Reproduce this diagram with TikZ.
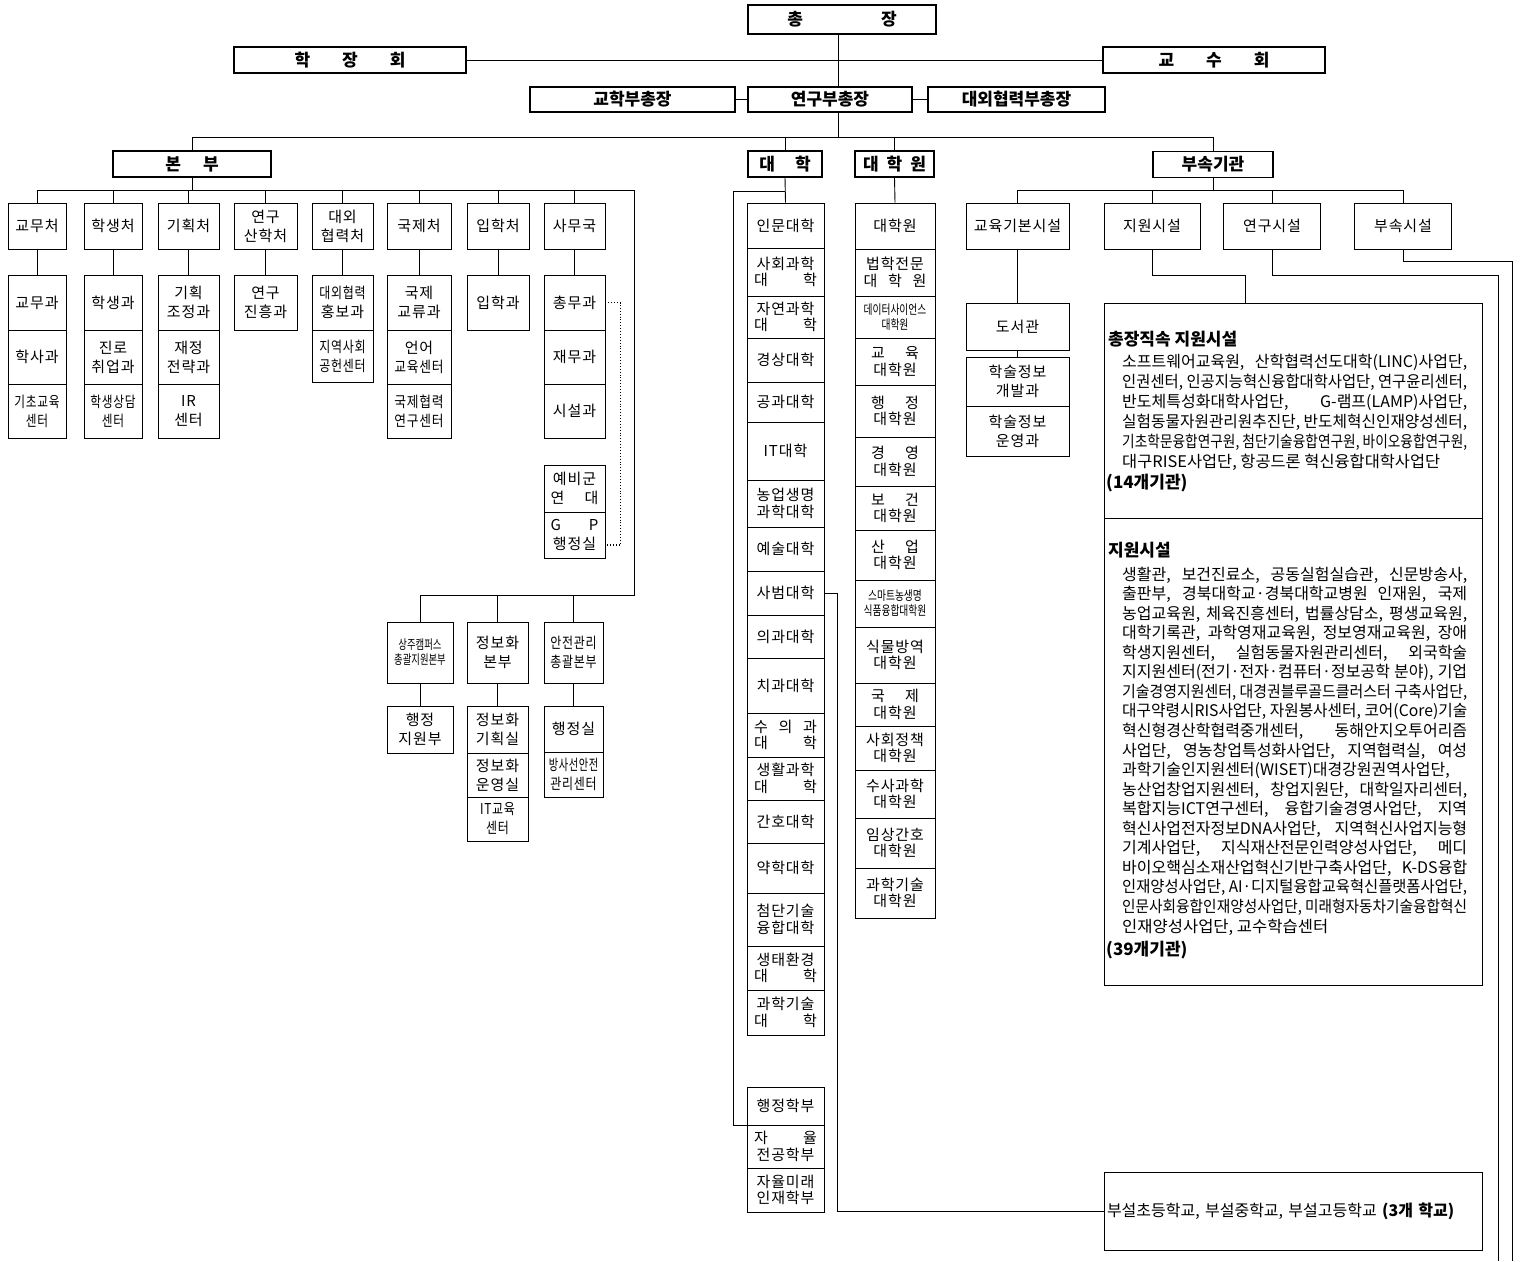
\documentclass[tikz,border=0pt]{standalone}
\usepackage{fontspec}
\usepackage{graphicx}
\setmainfont{Noto Sans CJK KR}
\newfontfamily\lblfont{Noto Sans CJK KR}[LetterSpace=6]
\usetikzlibrary{positioning, calc, backgrounds}

\newsavebox\fitbox
\newcommand\fitline[1]{\sbox\fitbox{#1}%
  \ifdim\wd\fitbox>345pt\resizebox{345pt}{\height}{#1}\else\makebox[345pt][s]{#1}\fi}
\newcommand\spr[2]{\makebox[4.2em]{#1\hfill#2}}
\newcommand\sprr[3]{\makebox[4.2em]{#1\hfill#2\hfill#3}}
\newcommand\sprt[2]{\makebox[3.2em]{#1\hfill#2}}
\newcommand\nw[2][0.78]{\scalebox{#1}[1]{#2}}

\begin{document}
\begin{tikzpicture}[x=1pt, y=-1pt,
  box/.style={draw, line width=0.9pt, fill=white, inner sep=0pt, align=center, font=\lblfont\fontsize{15}{19}\selectfont},
  col/.style={box, font=\lblfont\fontsize{15}{16.5}\selectfont},
  wee/.style={font=\fontsize{13}{15}\selectfont},
  head/.style={draw, line width=1.5pt, fill=white, inner sep=0pt, font=\bfseries\fontsize{17}{19}\selectfont},
  body/.style={anchor=west, inner sep=0pt, font=\fontsize{16}{18}\selectfont},
  bhead/.style={anchor=west, inner sep=0pt, font=\bfseries\fontsize{17}{19}\selectfont},
  link/.style={line width=0.9pt}]

\useasboundingbox (0,0) rectangle (1522,1261);

%//top
\node[head, minimum width=188, minimum height=29] (chong) at (842,19.5) {총\hspace{78pt}장};
\node[head, minimum width=232, minimum height=26] (hakjang) at (350,60) {학\hspace{32pt}장\hspace{32pt}회};
\node[head, minimum width=222, minimum height=26] (gyosu) at (1214,60) {교\hspace{32pt}수\hspace{32pt}회};
\node[head, minimum width=205, minimum height=25] (vpedu) at (632.5,99.5) {교학부총장};
\node[head, minimum width=164, minimum height=25] (vpres) at (830,99.5) {연구부총장};
\node[head, minimum width=177, minimum height=25] (vpext) at (1016.5,99.5) {대외협력부총장};

\node[head, minimum width=158, minimum height=26] (bonbu) at (192,164) {본\hspace{22pt}부};
\node[head, minimum width=74, minimum height=26] (daehak) at (785,164) {대\hspace{20pt}학};
\node[head, minimum width=79, minimum height=26] (grad) at (894.5,164) {대\hspace{8pt}학\hspace{8pt}원};
\node[head, minimum width=120, minimum height=26] (busok) at (1213,164.5) {부속기관};

\coordinate (trunk) at (838,137);
\coordinate (bbar) at (634,190);
\coordinate (lowbar) at (634,595);
\coordinate (sbar) at (1403,190);

%//bonbu
\foreach \n/\cx/\w/\txt in {gyomu/37/58/교무처, haksaeng/113/58/학생처, gihoek/188.5/61/기획처,
    yeongu/265.5/63/{연구\\산학처}, daeoe/342.5/61/{대외\\협력처}, gukje/419/64/국제처,
    iphak/498/62/입학처, samu/574.5/61/사무국}
  \node[box, minimum width=\w, minimum height=46] (\n) at (\cx,226) {\txt};

\def\cx{37}
\node[box, minimum width=58, minimum height=55] (gm1) at (\cx,302.5) {교무과};
\node[box, minimum width=58, minimum height=54] (gm2) at (\cx,357) {학사과};
\node[box, minimum width=58, minimum height=54] (gm3) at (\cx,411) {\nw{기초교육}\\\nw{센터}};

\def\cx{113}
\node[box, minimum width=58, minimum height=55] (hs1) at (\cx,302.5) {학생과};
\node[box, minimum width=58, minimum height=54] (hs2) at (\cx,357) {진로\\취업과};
\node[box, minimum width=58, minimum height=54] (hs3) at (\cx,411) {\nw{학생상담}\\\nw{센터}};

\def\cx{188.5}
\node[box, minimum width=61, minimum height=55] (gh1) at (\cx,302.5) {기획\\조정과};
\node[box, minimum width=61, minimum height=54] (gh2) at (\cx,357) {재정\\전략과};
\node[box, minimum width=61, minimum height=54] (gh3) at (\cx,411) {IR\\센터};

\node[box, minimum width=63, minimum height=55] (yg1) at (265.5,302.5) {연구\\진흥과};

\def\cx{342.5}
\node[box, minimum width=61, minimum height=55] (de1) at (\cx,302.5) {\nw[0.8]{대외협력}\\홍보과};
\node[box, minimum width=61, minimum height=52] (de2) at (\cx,356) {\nw[0.8]{지역사회}\\\nw[0.8]{공헌센터}};

\def\cx{419}
\node[box, minimum width=64, minimum height=55] (gj1) at (\cx,302.5) {국제\\교류과};
\node[box, minimum width=64, minimum height=54] (gj2) at (\cx,357) {언어\\\nw[0.85]{교육센터}};
\node[box, minimum width=64, minimum height=54] (gj3) at (\cx,411) {\nw[0.85]{국제협력}\\\nw[0.85]{연구센터}};

\node[box, minimum width=62, minimum height=55] (ip1) at (498,302.5) {입학과};

\def\cx{574.5}
\node[box, minimum width=61, minimum height=55] (sm1) at (\cx,302.5) {총무과};
\node[box, minimum width=61, minimum height=54] (sm2) at (\cx,357) {재무과};
\node[box, minimum width=61, minimum height=54] (sm3) at (\cx,411) {시설과};
\node[box, minimum width=61, minimum height=47] (sm4) at (\cx,488.5) {예비군\\\sprt{연}{대}};
\node[box, minimum width=61, minimum height=46] (sm5) at (\cx,535) {\sprt{G}{P}\\행정실};

%//lower row
\node[box, wee, minimum width=66, minimum height=61] (sangju) at (420,652.5) {\nw[0.72]{상주캠퍼스}\\\nw[0.72]{총괄지원본부}};
\node[box, minimum width=61, minimum height=61] (jbhq) at (497.5,652.5) {정보화\\본부};
\node[box, minimum width=59, minimum height=61] (anjeon) at (573.5,652.5) {\nw[0.8]{안전관리}\\\nw[0.8]{총괄본부}};
\node[box, minimum width=66, minimum height=47] (sj1) at (420,729.5) {행정\\지원부};
\node[box, minimum width=61, minimum height=47] (jb1) at (497.5,729.5) {정보화\\기획실};
\node[box, minimum width=61, minimum height=44] (jb2) at (497.5,775) {정보화\\운영실};
\node[box, minimum width=61, minimum height=44] (jb3) at (497.5,819) {\nw[0.8]{IT교육}\\\nw[0.8]{센터}};
\node[box, minimum width=59, minimum height=46] (aj1) at (573.5,729) {행정실};
\node[box, minimum width=59, minimum height=45] (aj2) at (573.5,774.5) {\nw[0.68]{방사선안전}\\\nw[0.8]{관리센터}};

%//daehak
\foreach \i/\ya/\yb/\txt in {1/203/248/인문대학, 2/248/296/{사회과학\\\spr{대}{학}},
    3/296/338/{자연과학\\\spr{대}{학}}, 4/338/382/경상대학, 5/382/422/공과대학,
    6/422/480/IT대학, 7/480/527/{농업생명\\과학대학}, 8/527/571/예술대학,
    9/571/615/사범대학, 10/615/658/의과대학, 11/658/713/치과대학,
    12/713/757/{\sprr{수}{의}{과}\\\spr{대}{학}}, 13/757/800/{생활과학\\\spr{대}{학}},
    14/800/843/간호대학, 15/843/893/약학대학, 16/893/946/{첨단기술\\융합대학},
    17/946/990/{생태환경\\\spr{대}{학}}, 18/990/1035/{과학기술\\\spr{대}{학}},
    19/1087/1125/행정학부, 20/1125/1168/{\spr{자}{율}\\전공학부}, 21/1168/1212/{자율미래\\인재학부}}
  \node[col, minimum width=77, minimum height={\yb-\ya}] (un\i) at (785.5,{(\ya+\yb)/2}) {\txt};

%//graduate
\foreach \i/\ya/\yb/\txt in {1/203/249/대학원, 2/249/296/{법학전문\\\sprr{대}{학}{원}},
    4/338/385/{\sprt{교}{육}\\대학원}, 5/385/437/{\sprt{행}{정}\\대학원},
    6/437/486/{\sprt{경}{영}\\대학원}, 7/486/530/{\sprt{보}{건}\\대학원},
    8/530/580/{\sprt{산}{업}\\대학원}, 10/627/683/{식물방역\\대학원},
    11/683/726/{\sprt{국}{제}\\대학원}, 12/726/770/{사회정책\\대학원},
    13/770/818/{수사과학\\대학원}, 14/818/868/{임상간호\\대학원}, 15/868/918/{과학기술\\대학원}}
  \node[col, minimum width=80, minimum height={\yb-\ya}] (gs\i) at (895,{(\ya+\yb)/2}) {\txt};
\node[box, wee, minimum width=80, minimum height=42] (gs3) at (895,317) {\nw[0.75]{데이터사이언스}\\\nw[0.75]{대학원}};
\node[box, wee, minimum width=80, minimum height=47] (gs9) at (895,603.5) {\nw[0.75]{스마트농생명}\\\nw[0.75]{식품융합대학원}};

%//busok
\node[box, minimum width=103, minimum height=46] (edu) at (1017.5,226) {교육기본시설};
\node[box, minimum width=96, minimum height=46] (sup) at (1152,226) {지원시설};
\node[box, minimum width=97, minimum height=46] (res) at (1272,226) {연구시설};
\node[box, minimum width=97, minimum height=46] (aff) at (1403,226) {부속시설};
\node[box, minimum width=103, minimum height=47] (lib) at (1017.5,326.5) {도서관};
\node[box, minimum width=103, minimum height=49] (lib1) at (1017.5,381.5) {학술정보\\개발과};
\node[box, minimum width=103, minimum height=50] (lib2) at (1017.5,431) {학술정보\\운영과};

\node[draw, line width=0.9pt, fill=white, minimum width=378, minimum height=682, inner sep=0pt] (sbox) at (1293,644) {};
\coordinate (divl) at (1104,518);
\draw[line width=0.9pt] (divl) -- (divl -| sbox.east);

\node[bhead] (h1) at (1108,339) {총장직속 지원시설};
\foreach \i/\ltxt in {0/{소프트웨어교육원,  산학협력선도대학(LINC)사업단,},
    1/{인권센터, 인공지능혁신융합대학사업단, 연구윤리센터,},
    2/{반도체특성화대학사업단, G-램프(LAMP)사업단,},
    3/{실험동물자원관리원추진단, 반도체혁신인재양성센터,},
    4/{기초학문융합연구원, 첨단기술융합연구원, 바이오융합연구원,}}
  \node[body] (sa\i) at (1122,362+20*\i) {\fitline{\ltxt}};
\node[body] (sa5) at (1122,462) {\resizebox{318pt}{\height}{대구RISE사업단, 항공드론 혁신융합대학사업단}};
\node[bhead] (f1) at (1106,483) {(14개기관)};

\node[bhead] (h2) at (1108,550) {지원시설};
\foreach \i/\ltxt in {0/{생활관, 보건진료소, 공동실험실습관, 신문방송사,},
    1/{출판부, 경북대학교·경북대학교병원 인재원, 국제},
    2/{농업교육원, 체육진흥센터, 법률상담소, 평생교육원,},
    3/{대학기록관, 과학영재교육원, 정보영재교육원, 장애},
    4/{학생지원센터, 실험동물자원관리센터, 외국학술},
    5/{지지원센터(전기·전자·컴퓨터·정보공학 분야), 기업},
    6/{기술경영지원센터, 대경권블루골드클러스터 구축사업단,},
    7/{대구약령시RIS사업단, 자원봉사센터, 코어(Core)기술},
    8/{혁신형경산학협력중개센터, 동해안지오투어리즘},
    9/{사업단, 영농창업특성화사업단, 지역협력실, 여성},
    10/{과학기술인지원센터(WISET)대경강원권역사업단,},
    11/{농산업창업지원센터, 창업지원단, 대학일자리센터,},
    12/{복합지능ICT연구센터, 융합기술경영사업단, 지역},
    13/{혁신사업전자정보DNA사업단, 지역혁신사업지능형},
    14/{기계사업단, 지식재산전문인력양성사업단, 메디},
    15/{바이오핵심소재산업혁신기반구축사업단, K-DS융합},
    16/{인재양성사업단, AI·디지털융합교육혁신플랫폼사업단,},
    17/{인문사회융합인재양성사업단, 미래형자동차기술융합혁신}}
  \node[body] (sb\i) at (1122,575+19.55*\i) {\fitline{\ltxt}};
\node[body] (sb18) at (1122,927) {\resizebox{206pt}{\height}{인재양성사업단, 교수학습센터}};
\node[bhead] (f2) at (1106,950) {(39개기관)};

\node[draw, line width=0.9pt, fill=white, minimum width=378, minimum height=78, inner sep=3pt, text width=372, align=left, font=\fontsize{16}{18}\selectfont] (school) at (1293,1211) {부설초등학교, 부설중학교, 부설고등학교 \textbf{(3개 학교)}};

\coordinate (dkturn) at (733,191);
\coordinate (sbturn) at (837,1211);
\coordinate (supturn) at (1245,275);
\coordinate (rsturn) at (1498,275);
\coordinate (rsbot) at (1498,1261);
\coordinate (afturn) at (1512,261);
\coordinate (afbot) at (1512,1261);

\begin{scope}[on background layer, every path/.style={link}]
\draw (chong.south -| trunk) -- (trunk);
\draw (hakjang) -- (gyosu);
\draw (vpedu) -- (vpres) -- (vpext);
\draw (bonbu.north |- trunk) -- (busok.north |- trunk);
\foreach \n in {bonbu, daehak, grad, busok}
  \draw (\n.north |- trunk) -- (\n.north);
\draw (bonbu.south) -- (bonbu.south |- bbar);
\draw (gyomu.north |- bbar) -- (bbar) -- (lowbar) -- (sangju.north |- lowbar);
\foreach \n in {gyomu, haksaeng, gihoek, yeongu, daeoe, gukje, iphak, samu}
  \draw (\n.north |- bbar) -- (\n.north);
\foreach \a/\b in {gyomu/gm1, haksaeng/hs1, gihoek/gh1, yeongu/yg1, daeoe/de1, gukje/gj1, iphak/ip1, samu/sm1,
    sangju/sj1, jbhq/jb1, anjeon/aj1}
  \draw (\a.south) -- (\b.north);
\foreach \n in {sangju, jbhq, anjeon}
  \draw (\n.north |- lowbar) -- (\n.north);
\draw[dotted, line width=1.3pt] (sm1.east) -- ++(15,0) |- ([yshift=-10pt]sm5.east);
%//daehak, graduate
\draw (daehak.south) -- (un1.north);
\draw (daehak.south |- dkturn) -- (dkturn) |- (un19.south west);
\draw (grad.south) -- (gs1.north);
\draw (un9.east) -| (sbturn) -- (school.west);
%//busok
\draw (busok.south) -- (busok.south |- sbar);
\draw (edu.north |- sbar) -- (sbar);
\foreach \n in {edu, sup, res}
  \draw (\n.north |- sbar) -- (\n.north);
\draw (sbar) -- (aff.north);
\draw (edu.south) -- (lib.north);
\draw (lib.south) -- (lib1.north);
\draw (sup.south) |- (supturn) -- (supturn |- sbox.north);
\draw (res.south) |- (rsturn) -- (rsbot);
\draw (aff.south) |- (afturn) -- (afbot);
\end{scope}
\end{tikzpicture}
\end{document}
